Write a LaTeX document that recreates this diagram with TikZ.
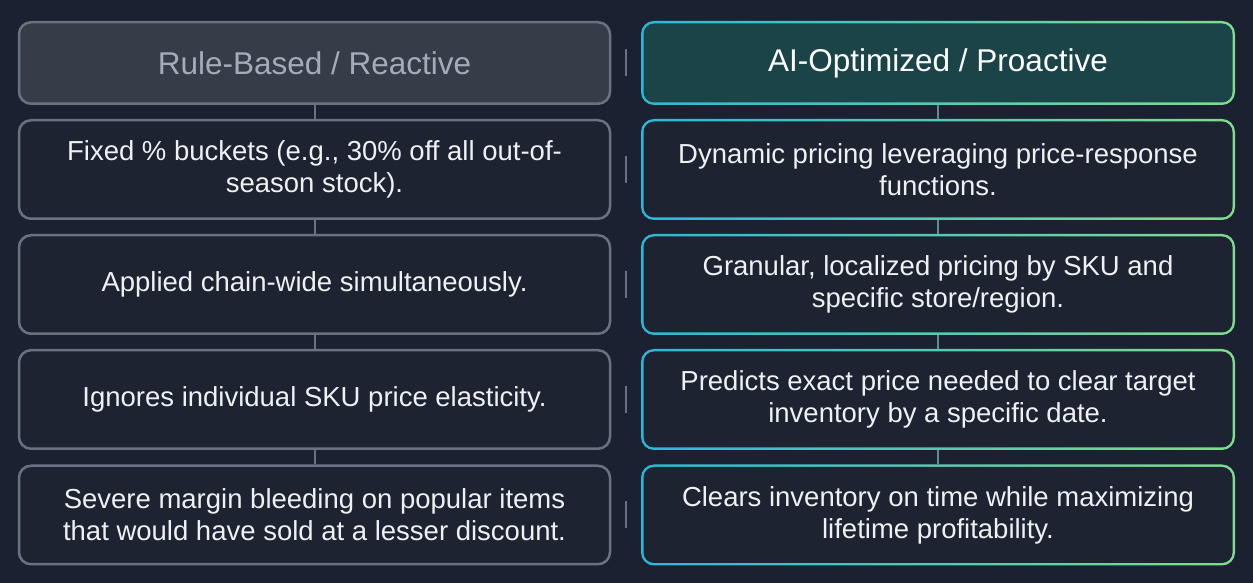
\documentclass[tikz,border=0pt]{standalone}
\usepackage{fontspec}
\setmainfont{Liberation Sans}
\usepackage{xcolor}
\usetikzlibrary{calc}
\definecolor{page}{HTML}{1B2130}
\definecolor{old edge}{HTML}{687282}
\definecolor{old head}{HTML}{363C48}
\definecolor{old headtext}{HTML}{A3ADB9}
\definecolor{cell fill}{HTML}{1D2331}
\definecolor{cell text}{HTML}{EEF0F3}
\definecolor{new left}{HTML}{2BB8D8}
\definecolor{new right}{HTML}{7FDC8C}
\definecolor{new head}{HTML}{1A4448}
\definecolor{new link}{HTML}{5C8E8C}
\tikzset{cell/.style={rounded corners=12pt, inner sep=0pt, align=center,
        font=\fontsize{27.5}{32}\selectfont, text=cell text},
    oldcell/.style={cell, draw=old edge, line width=2.5pt, fill=cell fill,
        minimum width=591pt, minimum height=98.5pt},
    newcell/.style={cell, rounded corners=13pt, minimum width=594pt, minimum height=101pt,
        left color=new left, right color=new right,
        path picture={\fill[#1, rounded corners=10.5pt]
            ([shift={(2.5pt,2.5pt)}]path picture bounding box.south west) rectangle
            ([shift={(-2.5pt,-2.5pt)}]path picture bounding box.north east);}},
    newcell/.default=cell fill,
    headcell/.style={minimum height=81.5pt, font=\fontsize{31.5}{36}\selectfont},
    link/.style={draw=old edge, line width=2pt},
    gap/.style={draw=old edge, line width=2pt}}

\begin{document}
\begin{tikzpicture}[x=1pt, y=1pt]
    % Page
    \fill[page] (0,0) rectangle (1253,583);
    \useasboundingbox (0,0) rectangle (1253,583);
    %
    % Rule-based column
    \node[oldcell, headcell, fill=old head, text=old headtext] (lh) at (314.5,520) {Rule-Based / Reactive};
    \node[oldcell] (l1) at (314.5,413.5) {Fixed \% buckets (e.g., 30\% off all out-of-\\season stock).};
    \node[oldcell] (l2) at (314.5,298.5) {Applied chain-wide simultaneously.};
    \node[oldcell] (l3) at (314.5,183.5) {Ignores individual SKU price elasticity.};
    \node[oldcell] (l4) at (314.5,68) {Severe margin bleeding on popular items\\that would have sold at a lesser discount.};
    %
    % AI-optimized column
    \node[newcell=new head, minimum height=84pt, font=\fontsize{31.5}{36}\selectfont, text=white] (rh) at (938,520) {AI-Optimized / Proactive};
    \node[newcell] (r1) at (938,413.5) {Dynamic pricing leveraging price-response\\functions.};
    \node[newcell] (r2) at (938,298.5) {Granular, localized pricing by SKU and\\specific store/region.};
    \node[newcell] (r3) at (938,183.5) {Predicts exact price needed to clear target\\inventory by a specific date.};
    \node[newcell] (r4) at (938,68) {Clears inventory on time while maximizing\\lifetime profitability.};
    %
    % Links down each column
    \draw[link] (lh) -- (l1);
    \draw[link] (l1) -- (l2);
    \draw[link] (l2) -- (l3);
    \draw[link] (l3) -- (l4);
    \draw[link, draw=new link] (rh) -- (r1);
    \draw[link, draw=new link] (r1) -- (r2);
    \draw[link, draw=new link] (r2) -- (r3);
    \draw[link, draw=new link] (r3) -- (r4);
    %
    % Marks between the columns
    \draw[gap] ($(lh.east)!0.5!(rh.west)$) ++(0,13.5) -- ++(0,-27);
    \draw[gap] ($(l1.east)!0.5!(r1.west)$) ++(0,13.5) -- ++(0,-27);
    \draw[gap] ($(l2.east)!0.5!(r2.west)$) ++(0,13.5) -- ++(0,-27);
    \draw[gap] ($(l3.east)!0.5!(r3.west)$) ++(0,13.5) -- ++(0,-27);
    \draw[gap] ($(l4.east)!0.5!(r4.west)$) ++(0,13.5) -- ++(0,-27);
\end{tikzpicture}
\end{document}
